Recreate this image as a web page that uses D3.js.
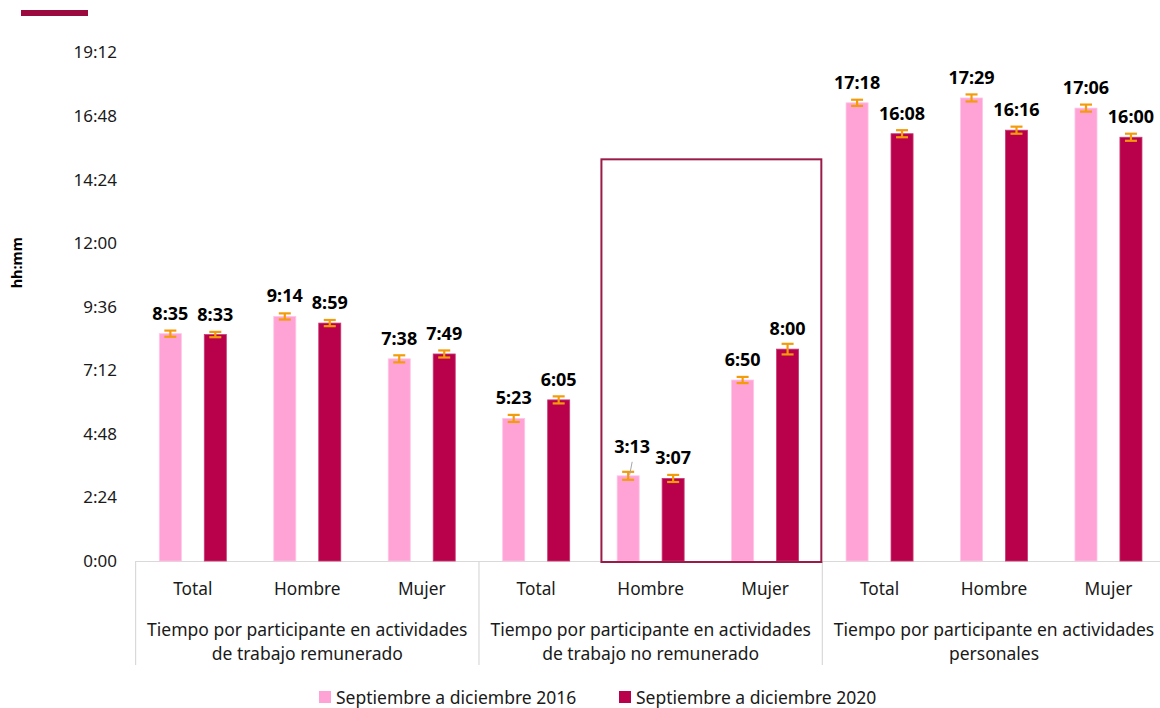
<!DOCTYPE html>
<html>
<head>
<meta charset="utf-8">
<script src="https://cdn.jsdelivr.net/npm/d3@7/dist/d3.min.js"></script>
<style>
  html, body { margin: 0; padding: 0; background: #fff; }
  svg { display: block; font-family: "Noto Sans", "Open Sans", sans-serif; }
</style>
</head>
<body>
<svg id="chart" width="1160" height="708"></svg>
<script>
// ---- data (minutes) ----
const categories = ["Total", "Hombre", "Mujer", "Total", "Hombre", "Mujer", "Total", "Hombre", "Mujer"];
const groups = [
  ["Tiempo por participante en actividades", "de trabajo remunerado"],
  ["Tiempo por participante en actividades", "de trabajo no remunerado"],
  ["Tiempo por participante en actividades", "personales"]
];
const seriesNames = ["Septiembre a diciembre 2016", "Septiembre a diciembre 2020"];
const values2016 = [515, 554, 458, 323, 193, 410, 1038, 1049, 1026];
const values2020 = [513, 539, 469, 365, 187, 480, 968, 976, 960];
const err2016 = [7, 7, 8, 8, 9, 7, 7, 8, 8];
const err2020 = [6, 7, 8, 8, 8, 12, 8, 8, 8];
const yTicks = [0, 144, 288, 432, 576, 720, 864, 1008, 1152];
const highlightCats = [4, 5];      // boxed categories
const highlightTop = 910;          // minutes
const leaderLabel = { series: 0, index: 4 }; // label pulled up with a leader line

const colors = ["#FFA3D6", "#B8004B"];
const strokeColors = ["#FFC6E6", "#C93A72"];
const errColor = "#F39C0A";
const textColor = "#1a1a1a";

const fmt = m => Math.floor(m / 60) + ":" + String(Math.round(m % 60)).padStart(2, "0");

const svg = d3.select("#chart");
const plotL = 135.6, plotR = 1165.7, plotT = 52.5, plotB = 561;

const x = d3.scaleBand().domain(d3.range(categories.length)).range([plotL, plotR]).padding(0);
const y = d3.scaleLinear().domain([0, 1152]).range([plotB, plotT]);
const sub = d3.scaleBand().domain([0, 1]).range([-33.5, 33.5]).paddingInner(0.51);

// decorative top-left bar
svg.append("rect").attr("x", 21).attr("y", 10).attr("width", 67).attr("height", 6).attr("fill", "#9A0A3E");

// y axis labels
const yAxis = d3.axisLeft(y).tickValues(yTicks).tickFormat(fmt).tickSize(0).tickPadding(0);
const ya = svg.append("g").attr("transform", `translate(117,0)`).call(yAxis);
ya.select(".domain").remove();
ya.selectAll("text").attr("font-size", 17).attr("fill", textColor).attr("font-family", "Noto Sans");

svg.append("text").attr("transform", `translate(22,${(plotT + plotB) / 2 - 44}) rotate(-90)`)
  .attr("text-anchor", "middle").attr("font-size", 14.5).attr("font-weight", "bold").attr("fill", "#000")
  .text("hh:mm");

// axis line
svg.append("line").attr("x1", plotL).attr("x2", plotR).attr("y1", plotB + 0.5).attr("y2", plotB + 0.5)
  .attr("stroke", "#D9D9D9").attr("stroke-width", 1.2);

// group separators
for (let g = 0; g <= groups.length; g++) {
  const xv = g < groups.length ? x(g * 3) : plotR;
  svg.append("line").attr("x1", xv).attr("x2", xv).attr("y1", plotB).attr("y2", 665)
    .attr("stroke", "#D9D9D9").attr("stroke-width", 1.2);
}

// bars
const series = [values2016, values2020];
const errs = [err2016, err2020];
series.forEach((vals, s) => {
  const gS = svg.append("g");
  gS.selectAll("rect").data(vals).join("rect")
    .attr("x", (d, i) => x(i) + x.bandwidth() / 2 + sub(s))
    .attr("width", sub.bandwidth())
    .attr("y", d => y(d))
    .attr("height", d => y(0) - y(d))
    .attr("fill", colors[s])
    .attr("stroke", strokeColors[s]).attr("stroke-width", 0.8);
});

// highlight box
svg.append("rect")
  .attr("x", x(highlightCats[0]) + 8)
  .attr("y", y(highlightTop))
  .attr("width", x(highlightCats[highlightCats.length - 1]) + x.bandwidth() - 1 - (x(highlightCats[0]) + 8))
  .attr("height", y(0) + 1 - y(highlightTop))
  .attr("fill", "none").attr("stroke", "#9B1B48").attr("stroke-width", 2);

// error bars
series.forEach((vals, s) => {
  vals.forEach((v, i) => {
    const cx = x(i) + x.bandwidth() / 2 + sub(s) + sub.bandwidth() / 2;
    const e = errs[s][i];
    const g = svg.append("g").attr("stroke", errColor).attr("stroke-width", 2.2);
    g.append("line").attr("x1", cx).attr("x2", cx).attr("y1", y(v + e)).attr("y2", y(v - e));
    g.append("line").attr("x1", cx - 6).attr("x2", cx + 6).attr("y1", y(v + e)).attr("y2", y(v + e));
    g.append("line").attr("x1", cx - 6).attr("x2", cx + 6).attr("y1", y(v - e)).attr("y2", y(v - e));
  });
});

// value labels
series.forEach((vals, s) => {
  vals.forEach((v, i) => {
    const cx = x(i) + x.bandwidth() / 2 + sub(s) + sub.bandwidth() / 2;
    const isLeader = leaderLabel.series === s && leaderLabel.index === i;
    const off = isLeader ? 23 : 14;
    if (isLeader) {
      svg.append("line").attr("x1", cx + 4).attr("y1", y(v) - off + 9).attr("x2", cx + 1.5).attr("y2", y(v) - 1)
        .attr("stroke", "#A6A6A6").attr("stroke-width", 1);
    }
    svg.append("text").attr("x", isLeader ? cx + 4 : cx).attr("y", y(v) - off)
      .attr("text-anchor", "middle").attr("font-size", 18).attr("font-weight", "bold").attr("fill", "#000")
      .text(fmt(v));
  });
});

// category labels
svg.append("g").selectAll("text").data(categories).join("text")
  .attr("x", (d, i) => x(i) + x.bandwidth() / 2).attr("y", 595)
  .attr("text-anchor", "middle").attr("font-size", 17.3).attr("fill", textColor)
  .text(d => d);

// group labels
groups.forEach((lines, g) => {
  const cx = (x(g * 3) + (g * 3 + 3 < categories.length ? x(g * 3 + 3) : plotR)) / 2;
  lines.forEach((ln, k) => {
    svg.append("text").attr("x", cx).attr("y", 635.5 + k * 24.5)
      .attr("text-anchor", "middle").attr("font-size", 17.5).attr("fill", textColor).text(ln);
  });
});

// legend
const legendX = [319, 619];
seriesNames.forEach((n, s) => {
  svg.append("rect").attr("x", legendX[s]).attr("y", 691).attr("width", 12).attr("height", 12).attr("fill", colors[s]);
  svg.append("text").attr("x", legendX[s] + 17).attr("y", 704).attr("font-size", 17.5).attr("fill", textColor).text(n);
});
</script>
</body>
</html>
